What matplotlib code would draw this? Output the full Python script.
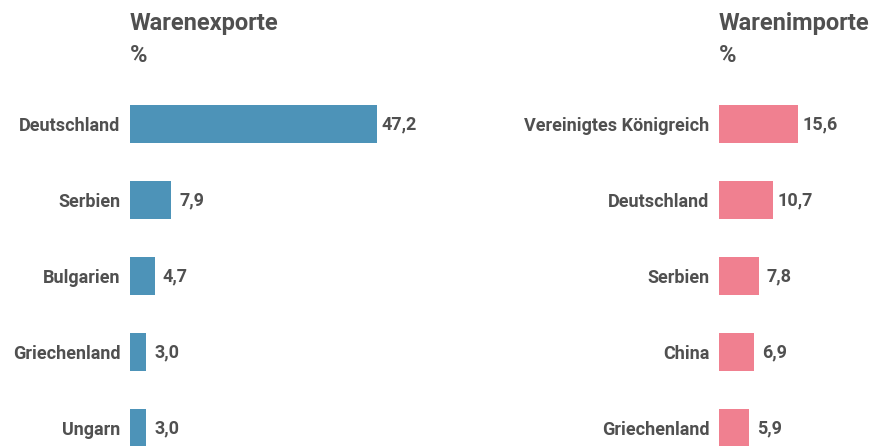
import matplotlib
matplotlib.use("Agg")
import matplotlib.pyplot as plt

plt.rcParams['font.family'] = ['Roboto', 'DejaVu Sans']

export_land = ['Deutschland', 'Serbien', 'Bulgarien', 'Griechenland', 'Ungarn']
export_val = [47.2, 7.9, 4.7, 3.0, 3.0]
import_land = ['Vereinigtes Königreich', 'Deutschland', 'Serbien', 'China', 'Griechenland']
import_val = [15.6, 10.7, 7.8, 6.9, 5.9]

txt = '#505050'
W, H = 872, 446
fig = plt.figure(figsize=(W/100, H/100), dpi=100)

def panel(left, xmax, scale, lands, vals, color, title):
    ax = fig.add_axes([left/W, (H-466)/H, xmax*scale/W, 380/H])
    y = range(len(lands))
    ax.barh(y, vals, height=0.5, color=color)
    ax.set_xlim(0, xmax)
    ax.set_ylim(4.5, -0.5)
    ax.set_yticks(list(y))
    ax.set_yticklabels(lands, fontsize=13, fontweight='bold', color=txt)
    ax.tick_params(axis='y', length=0, pad=7)
    ax.set_xticks([])
    for s in ax.spines.values():
        s.set_visible(False)
    for i, v in enumerate(vals):
        off = 3 if v >= 10 else 6
        ax.annotate(f'{v:.1f}'.replace('.', ','), (v, i), xytext=(off, 0),
                    textcoords='offset points', va='center', ha='left',
                    fontsize=13, fontweight='bold', color=txt)
    fig.text(left/W, 1-30/H, title, fontsize=17, fontweight='bold',
             color=txt, va='baseline')
    fig.text(left/W, 1-62/H, '%', fontsize=17, fontweight='bold',
             color=txt, va='baseline')

panel(130, 50, 5.23, export_land, export_val, '#4d93b8', 'Warenexporte')
panel(719, 30, 5.07, import_land, import_val, '#f08090', 'Warenimporte')

fig.savefig('out.png', dpi=100)
